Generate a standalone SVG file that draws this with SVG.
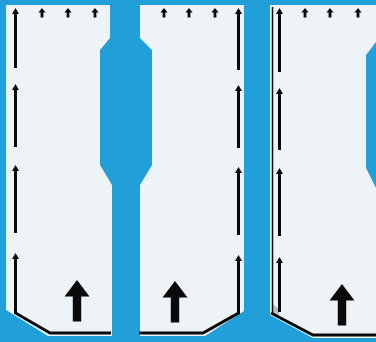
<svg xmlns="http://www.w3.org/2000/svg" width="376" height="342" viewBox="0 0 376 342">
<defs>
<style>
.paper{fill:#eef3f7;}
.ln{stroke:#0a0a0a;stroke-width:3;fill:none;marker-end:url(#ah);}
.edge{stroke:#0a0a0a;stroke-width:3;fill:none;stroke-linejoin:miter;}
.thin{stroke:#0a0a0a;stroke-width:1.5;fill:none;}
.blk{fill:#0a0a0a;}
</style>
<marker id="ah" viewBox="-1 -3.5 6 7" markerWidth="6" markerHeight="7" refX="0" refY="0" markerUnits="userSpaceOnUse" orient="auto">
<path d="M-1,-3.5 L5,0 L-1,3.5 Z" fill="#0a0a0a"/>
</marker>
<symbol id="small" viewBox="-4 0 8 10" width="8" height="10" overflow="visible">
<path d="M0,0 L3.6,4.5 L1.4,4.5 L1.4,9.5 L-1.4,9.5 L-1.4,4.5 L-3.6,4.5 Z" fill="#0a0a0a"/>
</symbol>
<symbol id="big" viewBox="-13 0 26 42" width="26" height="42" overflow="visible">
<path d="M0,0 L12.5,16.5 L4.2,16.5 L4.2,41.5 L-4.2,41.5 L-4.2,16.5 L-12.5,16.5 Z" fill="#0a0a0a"/>
</symbol>
</defs>
<rect width="376" height="342" fill="#219fd9"/>

<g id="panel1">
<path class="paper" d="M6,5 L110,5 L110,38 L100,50 L100,165 L112,185 L112,336 L48,336 L6,310 Z"/>
<use href="#small" x="38" y="8"/>
<use href="#small" x="64" y="8"/>
<use href="#small" x="91" y="8"/>
<use href="#big" x="64" y="280"/>
</g>

<g id="panel2">
<path class="paper" d="M140,5 L244,5 L244,311 L205,336 L140,336 L140,185 L152,165 L152,50 L140,38 Z"/>
<use href="#small" x="160" y="8"/>
<use href="#small" x="185" y="8"/>
<use href="#small" x="211" y="8"/>
<use href="#big" x="162" y="281"/>
</g>

<g id="panel3">
<path class="paper" d="M270,5 L376,5 L376,42 L366,55 L366,168 L376,188 L376,338 L313,338 L270,315 Z"/>
<polygon points="272.5,304 279,309 279,318 272.5,314" fill="#b9bec3"/>
<line class="thin" x1="272.5" y1="7" x2="272.5" y2="313"/>
<use href="#small" x="301" y="8"/>
<use href="#small" x="326" y="8"/>
<use href="#small" x="354" y="8"/>
<use href="#big" x="329" y="284"/>
</g>

<g id="connectors">
<line class="ln" x1="15.5" y1="68" x2="15.5" y2="13"/>
<line class="ln" x1="15.5" y1="147" x2="15.5" y2="89"/>
<line class="ln" x1="15.5" y1="233" x2="15.5" y2="170"/>
<path class="ln" d="M111,333 L50,333 L15.5,313 L15.5,258"/>

<line class="ln" x1="238.5" y1="70" x2="238.5" y2="13"/>
<line class="ln" x1="238.5" y1="148" x2="238.5" y2="90"/>
<line class="ln" x1="238.5" y1="235" x2="238.5" y2="172"/>
<path class="ln" d="M139,333 L203,333 L238.5,313 L238.5,260"/>

<line class="ln" x1="279.5" y1="72" x2="279.5" y2="13"/>
<line class="ln" x1="279.5" y1="150" x2="279.5" y2="93"/>
<line class="ln" x1="279.5" y1="236" x2="279.5" y2="173"/>
<line class="ln" x1="279.5" y1="312" x2="279.5" y2="262"/>
<path class="edge" d="M271,313 L313,335 L376,335"/>
</g>
</svg>
